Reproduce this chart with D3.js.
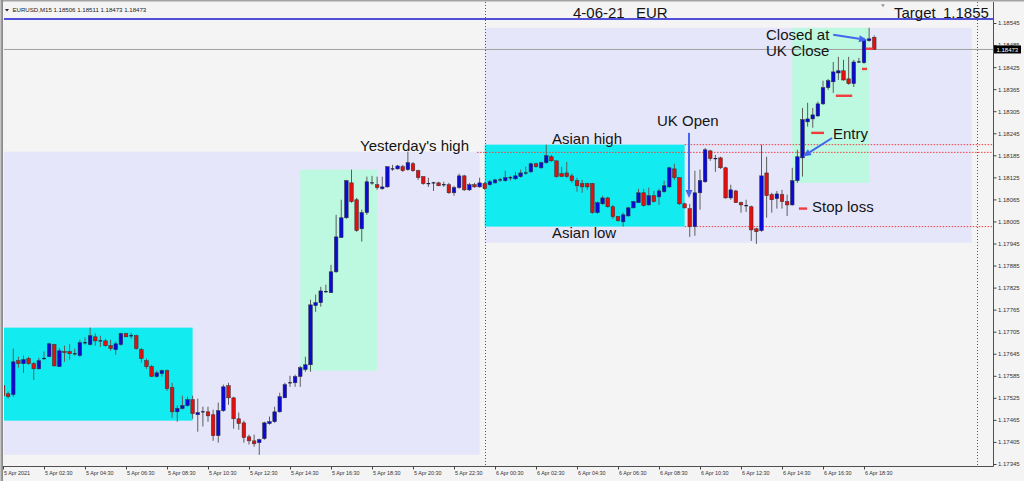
<!DOCTYPE html>
<html><head><meta charset="utf-8">
<script src="https://cdn.jsdelivr.net/npm/d3@7"></script>
<style>html,body{margin:0;padding:0;background:#f4f4f4;overflow:hidden}</style>
</head><body><svg id="c" width="1024" height="481"></svg>
<script>
// ---------------- DATA ----------------
const symbol = "EURUSD,M15";
const open = [
1.17558,1.17536,1.17534,1.17626,1.17618,1.17632,1.17618,1.17604,1.17632,1.17637,
1.17670,1.17610,1.17651,1.17651,1.17645,1.17640,1.17675,1.17670,1.17691,1.17680,
1.17680,1.17667,1.17656,1.17670,1.17700,1.17694,1.17694,1.17656,1.17626,1.17610,
1.17583,1.17591,1.17599,1.17553,1.17487,1.17496,1.17504,1.17520,1.17479,1.17487,
1.17487,1.17479,1.17422,1.17490,1.17558,1.17525,1.17468,1.17457,1.17419,1.17408,
1.17403,1.17414,1.17455,1.17460,1.17487,1.17525,1.17566,1.17566,1.17583,1.17602,
1.17615,1.17776,1.17784,1.17814,1.17811,1.17868,1.17961,1.18015,1.18110,1.18064,
1.17985,1.18029,1.18110,1.18105,1.18094,1.18099,1.18148,1.18148,1.18154,1.18146,
1.18162,1.18143,1.18127,1.18108,1.18110,1.18110,1.18105,1.18105,1.18083,1.18097,
1.18129,1.18091,1.18105,1.18099,1.18108,1.18105,1.18110,1.18118,1.18116,1.18124,
1.18121,1.18127,1.18137,1.18140,1.18162,1.18151,1.18165,1.18181,1.18170,1.18135,
1.18137,1.18129,1.18116,1.18108,1.18108,1.18108,1.18029,1.18053,1.18069,1.18045,
1.18018,1.18004,1.18020,1.18042,1.18056,1.18083,1.18050,1.18075,1.18072,1.18086,
1.18099,1.18148,1.18124,1.18053,1.18040,1.17991,1.18083,1.18113,1.18197,1.18176,
1.18178,1.18151,1.18069,1.18088,1.18056,1.18048,1.18045,1.17985,1.17980,1.18137,
1.18078,1.18067,1.18078,1.18059,1.18050,1.18116,1.18178,1.18276,1.18284,1.18292,
1.18325,1.18369,1.18385,1.18409,1.18415,1.18393,1.18380,1.18439,1.18437,1.18497,
1.18506];
const high = [
1.17566,1.17542,1.17659,1.17637,1.17640,1.17637,1.17623,1.17634,1.17651,1.17675,
1.17672,1.17661,1.17667,1.17672,1.17659,1.17683,1.17689,1.17716,1.17700,1.17694,
1.17686,1.17683,1.17678,1.17702,1.17702,1.17702,1.17697,1.17661,1.17632,1.17615,
1.17599,1.17602,1.17602,1.17566,1.17504,1.17531,1.17528,1.17531,1.17523,1.17501,
1.17501,1.17493,1.17512,1.17561,1.17566,1.17528,1.17485,1.17463,1.17425,1.17425,
1.17414,1.17460,1.17474,1.17501,1.17539,1.17566,1.17585,1.17588,1.17612,1.17637,
1.17792,1.17806,1.17827,1.17833,1.17887,1.18023,1.18064,1.18118,1.18146,1.18069,
1.18037,1.18127,1.18129,1.18127,1.18127,1.18154,1.18159,1.18159,1.18159,1.18195,
1.18167,1.18146,1.18127,1.18124,1.18113,1.18113,1.18113,1.18110,1.18102,1.18135,
1.18132,1.18110,1.18110,1.18124,1.18113,1.18118,1.18121,1.18124,1.18143,1.18129,
1.18140,1.18146,1.18154,1.18165,1.18165,1.18167,1.18214,1.18186,1.18170,1.18154,
1.18167,1.18135,1.18124,1.18118,1.18110,1.18110,1.18059,1.18075,1.18072,1.18050,
1.18020,1.18029,1.18045,1.18061,1.18094,1.18094,1.18097,1.18088,1.18094,1.18116,
1.18154,1.18162,1.18124,1.18056,1.18053,1.18143,1.18146,1.18205,1.18200,1.18186,
1.18181,1.18154,1.18105,1.18091,1.18059,1.18064,1.18048,1.17988,1.18214,1.18181,
1.18083,1.18088,1.18091,1.18078,1.18151,1.18200,1.18314,1.18328,1.18314,1.18331,
1.18388,1.18393,1.18439,1.18453,1.18445,1.18453,1.18445,1.18450,1.18505,1.18532,
1.18511];
const low = [
1.17520,1.17523,1.17528,1.17607,1.17593,1.17615,1.17574,1.17602,1.17629,1.17637,
1.17610,1.17610,1.17623,1.17629,1.17640,1.17637,1.17670,1.17667,1.17667,1.17664,
1.17664,1.17653,1.17642,1.17667,1.17691,1.17686,1.17656,1.17621,1.17604,1.17583,
1.17580,1.17583,1.17544,1.17471,1.17460,1.17493,1.17501,1.17468,1.17433,1.17447,
1.17460,1.17408,1.17403,1.17487,1.17506,1.17441,1.17438,1.17403,1.17398,1.17392,
1.17370,1.17411,1.17452,1.17457,1.17485,1.17525,1.17555,1.17555,1.17555,1.17596,
1.17596,1.17759,1.17773,1.17811,1.17811,1.17865,1.17961,1.18012,1.18056,1.17977,
1.17950,1.18023,1.18105,1.18091,1.18091,1.18097,1.18143,1.18146,1.18140,1.18143,
1.18140,1.18118,1.18105,1.18099,1.18088,1.18102,1.18099,1.18080,1.18075,1.18094,
1.18088,1.18088,1.18097,1.18097,1.18091,1.18102,1.18108,1.18113,1.18113,1.18116,
1.18118,1.18124,1.18132,1.18137,1.18151,1.18148,1.18162,1.18167,1.18124,1.18127,
1.18124,1.18110,1.18086,1.18083,1.18091,1.18026,1.18026,1.18050,1.18042,1.18012,
1.18004,1.17991,1.18018,1.18040,1.18056,1.18045,1.18048,1.18056,1.18050,1.18083,
1.18097,1.18118,1.18050,1.18040,1.17963,1.17966,1.18037,1.18110,1.18170,1.18140,
1.18148,1.18067,1.18064,1.18056,1.18029,1.18031,1.17952,1.17944,1.17977,1.18015,
1.18029,1.18040,1.18040,1.18020,1.18048,1.18110,1.18127,1.18263,1.18260,1.18290,
1.18322,1.18363,1.18355,1.18390,1.18388,1.18377,1.18371,1.18437,1.18434,1.18494,
1.18473];
const close = [
1.17531,1.17528,1.17623,1.17618,1.17629,1.17618,1.17604,1.17626,1.17632,1.17672,
1.17612,1.17653,1.17648,1.17645,1.17645,1.17675,1.17675,1.17694,1.17680,1.17680,
1.17667,1.17659,1.17672,1.17700,1.17691,1.17694,1.17659,1.17632,1.17610,1.17583,
1.17593,1.17599,1.17550,1.17487,1.17496,1.17504,1.17520,1.17482,1.17485,1.17487,
1.17476,1.17422,1.17490,1.17555,1.17525,1.17468,1.17455,1.17417,1.17408,1.17400,
1.17411,1.17457,1.17460,1.17487,1.17528,1.17561,1.17566,1.17583,1.17607,1.17615,
1.17778,1.17784,1.17816,1.17814,1.17868,1.17963,1.18015,1.18116,1.18059,1.17980,
1.18029,1.18113,1.18110,1.18097,1.18099,1.18154,1.18148,1.18156,1.18143,1.18165,
1.18143,1.18124,1.18108,1.18108,1.18110,1.18102,1.18105,1.18083,1.18097,1.18129,
1.18091,1.18105,1.18099,1.18110,1.18094,1.18113,1.18118,1.18118,1.18124,1.18124,
1.18129,1.18137,1.18137,1.18162,1.18154,1.18165,1.18184,1.18170,1.18127,1.18127,
1.18127,1.18116,1.18102,1.18099,1.18099,1.18029,1.18056,1.18069,1.18045,1.18018,
1.18007,1.18023,1.18042,1.18059,1.18083,1.18048,1.18075,1.18059,1.18088,1.18102,
1.18151,1.18124,1.18053,1.18042,1.17991,1.18083,1.18116,1.18200,1.18176,1.18176,
1.18151,1.18069,1.18091,1.18056,1.18050,1.18048,1.17982,1.17977,1.18129,1.18075,
1.18064,1.18080,1.18059,1.18050,1.18116,1.18181,1.18282,1.18284,1.18295,1.18325,
1.18369,1.18388,1.18412,1.18415,1.18390,1.18380,1.18439,1.18439,1.18499,1.18502,
1.18473];

const timeLabels = ["5 Apr 2021","5 Apr 02:30","5 Apr 04:30","5 Apr 06:30","5 Apr 08:30","5 Apr 10:30",
 "5 Apr 12:30","5 Apr 14:30","5 Apr 16:30","5 Apr 18:30","5 Apr 20:30","5 Apr 22:30","6 Apr 00:30",
 "6 Apr 02:30","6 Apr 04:30","6 Apr 06:30","6 Apr 08:30","6 Apr 10:30","6 Apr 12:30","6 Apr 14:30",
 "6 Apr 16:30","6 Apr 18:30"];
const timeLabelBars = [0,8,16,24,32,40,48,56,64,72,80,88,96,104,112,120,128,136,144,152,160,168];
const priceTicks = [1.17345,1.17405,1.17465,1.17525,1.17585,1.17645,1.17705,1.17765,1.17825,1.17885,
 1.17945,1.18005,1.18065,1.18125,1.18185,1.18245,1.18305,1.18365,1.18425,1.18485,1.18545];

// rectangles (bar index range, price range)
const zoneKind   = ["range","range","asia","move","asia","move"];
const zoneStart  = [0, 94, 0, 58, 94, 154];
const zoneEnd    = [93, 189, 37, 73, 133, 169];
const zoneTop    = [1.18195, 1.18532, 1.17716, 1.18146, 1.18214, 1.18532];
const zoneBottom = [1.17370, 1.17947, 1.17463, 1.17599, 1.17991, 1.18110];

// horizontal levels
const targetPrice = 1.18556;
const levelStart = [92.5, 133, 133];          // yesterday's high, Asian high, Asian low
const levelPrice = [1.18193, 1.18214, 1.17991];
const separatorBars = [94, 190];

// short red marks (trade levels)
const dashStart = [155.3, 157.7, 162.5, 167.6, 168.4];
const dashEnd   = [156.9, 160.2, 165.7, 168.6, 169.8];
const dashPrice = [1.18040, 1.18246, 1.18347, 1.18420, 1.18475];

// arrows
const arrowBar1 = [133.85, 161.76, 162.0];
const arrowPrice1 = [1.18246, 1.18232, 1.18513];
const arrowBar2 = [133.85, 156.1, 168.6];
const arrowPrice2 = [1.18069, 1.18182, 1.18499];

// annotations
const noteText  = ["Yesterday's high","Asian high","Asian low","UK Open","Closed at","UK Close","Entry","Stop loss","4-06-21","EUR","Target","1.1855"];
const noteBar   = [69.66,107.12,107.12,127.61,148.88,148.88,161.95,157.85,111.22,123.51,173.85,183.41];
const notePrice = [1.18197,1.18216,1.17959,1.18265,1.18499,1.18456,1.18230,1.18032,1.18559,1.18559,1.18559,1.18559];

// ---------------- CHART ----------------
const svg = d3.select("#c");
const last = open.length - 1;
const x = d3.scaleLinear().domain([0, last]).range([3, 3 + last * 5.125]);
const y = d3.scaleLinear().domain([priceTicks[0], priceTicks[priceTicks.length-1]]).range([464, 23]);
const plotL = 3, plotR = 993, plotT = 2, plotB = 466;
const FONT = "'Liberation Sans', Arial, sans-serif";

svg.append("rect").attr("width",1024).attr("height",481).attr("fill","#f4f4f4");
svg.append("defs").append("clipPath").attr("id","pc").append("rect")
  .attr("x",plotL+1).attr("y",plotT).attr("width",plotR-plotL-1).attr("height",plotB-plotT);
const g = svg.append("g").attr("clip-path","url(#pc)");

const zoneFill = {range:"#e6e6fa", asia:"#12ecf1", move:"#bdf9e0"};
g.selectAll("rect.zone").data(d3.range(zoneStart.length)).join("rect")
  .attr("x", i => x(zoneStart[i])).attr("width", i => x(zoneEnd[i]) - x(zoneStart[i]))
  .attr("y", i => y(zoneTop[i])).attr("height", i => y(zoneBottom[i]) - y(zoneTop[i]))
  .attr("fill", i => zoneFill[zoneKind[i]]);

// separators
g.selectAll("line.sep").data(separatorBars).join("line")
  .attr("x1", d => Math.round(x(d))+0.5).attr("x2", d => Math.round(x(d))+0.5)
  .attr("y1", plotT).attr("y2", plotB)
  .attr("stroke","#555").attr("stroke-width",1).attr("stroke-dasharray","1,2");

// current price line & target line
g.append("line").attr("x1",plotL).attr("x2",plotR).attr("y1",y(close[last])).attr("y2",y(close[last]))
  .attr("stroke","#a0a0a0").attr("stroke-width",1);
g.append("line").attr("x1",plotL).attr("x2",plotR).attr("y1",y(targetPrice)).attr("y2",y(targetPrice))
  .attr("stroke","#1a1ad0").attr("stroke-width",1.4);

// red dotted levels
g.selectAll("line.lvl").data(d3.range(levelPrice.length)).join("line")
  .attr("x1", i => x(levelStart[i])).attr("x2", plotR)
  .attr("y1", i => y(levelPrice[i])).attr("y2", i => y(levelPrice[i]))
  .attr("stroke","#f04040").attr("stroke-width",1).attr("stroke-dasharray","1.5,1.5");

// candles
const idx = d3.range(open.length);
g.selectAll("line.wick").data(idx).join("line")
  .attr("x1", i => x(i)).attr("x2", i => x(i))
  .attr("y1", i => y(high[i])).attr("y2", i => y(low[i]))
  .attr("stroke","#5c5c5c").attr("stroke-width",1);
const bw = 3.6;
g.selectAll("rect.body").data(idx.filter(i => open[i] !== close[i])).join("rect")
  .attr("x", i => x(i) - bw/2).attr("width", bw)
  .attr("y", i => Math.min(y(open[i]), y(close[i])))
  .attr("height", i => Math.max(1, Math.abs(y(open[i]) - y(close[i]))))
  .attr("fill", i => close[i] > open[i] ? "#0a0ad2" : "#e01010")
  .attr("stroke","#303030").attr("stroke-width",0.5);
g.selectAll("line.doji").data(idx.filter(i => open[i] === close[i])).join("line")
  .attr("x1", i => x(i) - bw/2).attr("x2", i => x(i) + bw/2)
  .attr("y1", i => y(open[i])).attr("y2", i => y(open[i]))
  .attr("stroke","#1a1a40").attr("stroke-width",1.2);

// red trade marks
g.selectAll("line.dash").data(d3.range(dashPrice.length)).join("line")
  .attr("x1", i => x(dashStart[i])).attr("x2", i => x(dashEnd[i]))
  .attr("y1", i => y(dashPrice[i])).attr("y2", i => y(dashPrice[i]))
  .attr("stroke","#f03c3c").attr("stroke-width",2.4);

// arrows
const arrowColor = "#4466ee";
d3.range(arrowBar1.length).forEach(i => {
  const x1 = x(arrowBar1[i]), y1 = y(arrowPrice1[i]), x2 = x(arrowBar2[i]), y2 = y(arrowPrice2[i]);
  const ang = Math.atan2(y2 - y1, x2 - x1), L = 8, Wd = 3.5;
  const bx = x2 - L*Math.cos(ang), by = y2 - L*Math.sin(ang);
  g.append("line").attr("x1",x1).attr("y1",y1).attr("x2",bx).attr("y2",by)
    .attr("stroke",arrowColor).attr("stroke-width",2);
  g.append("path").attr("d", d3.line()([[x2,y2],[bx - Wd*Math.sin(ang), by + Wd*Math.cos(ang)],[bx + Wd*Math.sin(ang), by - Wd*Math.cos(ang)]]) + "Z")
    .attr("fill",arrowColor);
});

// annotations
g.selectAll("text.note").data(d3.range(noteText.length)).join("text")
  .attr("x", i => x(noteBar[i])).attr("y", i => y(notePrice[i]))
  .attr("font-family",FONT).attr("font-size",15).attr("fill","#141414")
  .text(i => noteText[i]);
// label anchor marker of the target line
const mk = [x(171.7), y(1.18592)];
g.append("path").attr("d", d3.line()([[mk[0]-2,mk[1]-1.5],[mk[0]+2,mk[1]-1.5],[mk[0],mk[1]+1.5]])+"Z").attr("fill","#999");

// header
svg.append("path").attr("d", d3.line()([[5,9],[9,9],[7,11.5]])+"Z").attr("fill","#222");
svg.append("text").attr("x",12.5).attr("y",12.3).attr("font-family",FONT).attr("font-size",6.1).attr("fill","#222")
  .text(symbol + "  " + [open[last],high[last],low[last],close[last]].map(v => v.toFixed(5)).join(" "));

// frame
svg.append("rect").attr("x",0).attr("y",0).attr("width",1024).attr("height",1.5).attr("fill","#a4a4a4");
svg.append("rect").attr("x",0).attr("y",0).attr("width",1.2).attr("height",481).attr("fill","#c4c4c4");
svg.append("rect").attr("x",1.2).attr("y",0).attr("width",1.8).attr("height",481).attr("fill","#8a8a8a");
svg.append("line").attr("x1",plotR+0.5).attr("x2",plotR+0.5).attr("y1",plotT).attr("y2",plotB+0.5).attr("stroke","#505050");
svg.append("line").attr("x1",plotL).attr("x2",plotR+0.5).attr("y1",plotB+0.5).attr("y2",plotB+0.5).attr("stroke","#505050");

// price axis
const ya = svg.append("g").attr("transform",`translate(${plotR+0.5},0)`)
  .call(d3.axisRight(y).tickValues(priceTicks).tickFormat(d3.format(".5f")).tickSize(3).tickPadding(1.5));
ya.select(".domain").remove();
ya.selectAll("line").attr("stroke","#444");
ya.selectAll("text").attr("font-family",FONT).attr("font-size",6).attr("fill","#333");

// current price box
const cy = y(close[last]);
svg.append("rect").attr("x",994).attr("y",cy-4).attr("width",27).attr("height",8).attr("fill","#000");
svg.append("text").attr("x",996.5).attr("y",cy).attr("dy","0.35em").attr("font-family",FONT)
  .attr("font-size",6).attr("fill","#fff").text(close[last].toFixed(5));

// time axis
const xa = svg.append("g").attr("transform",`translate(0,${plotB+0.5})`)
  .call(d3.axisBottom(x).tickValues(timeLabelBars).tickFormat((d,i) => timeLabels[i]).tickSize(3).tickPadding(2));
xa.select(".domain").remove();
xa.selectAll("line").attr("stroke","#444");
xa.selectAll("text").attr("text-anchor","start").attr("x",0.5)
  .attr("font-family",FONT).attr("font-size",5.4).attr("fill","#333");
</script></body></html>
